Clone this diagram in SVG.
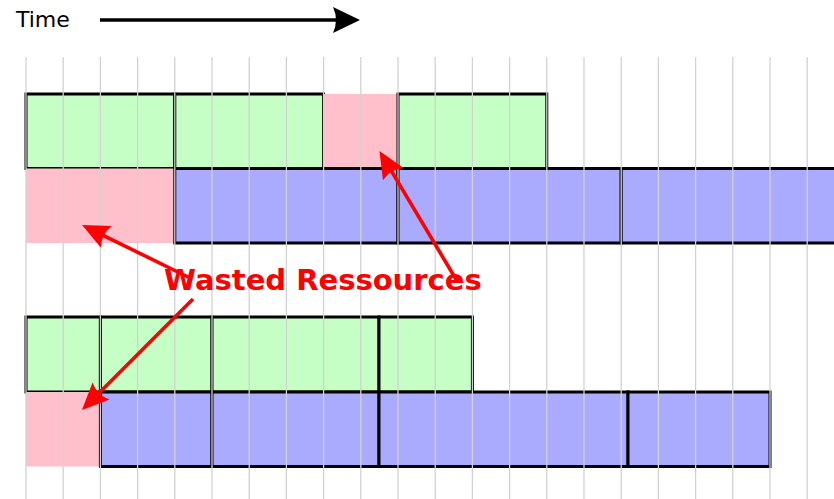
<svg xmlns="http://www.w3.org/2000/svg" width="834" height="499" viewBox="0 0 834 499">
<style>
.g{fill:#c6ffc6;stroke:#000;stroke-width:3}
.b{fill:#aaaaff;stroke:#000;stroke-width:3}
.p{fill:#ffc0cb;stroke:none}
.grid line{stroke:#d2d2d2;stroke-width:1.3}
.red{stroke:#ff0000;stroke-width:3.6;fill:none}
.blk{stroke:#000;stroke-width:3.6;fill:none}
.lbl{font-family:"DejaVu Sans",sans-serif}
</style>
<defs>
<marker id="ah-red" markerUnits="userSpaceOnUse" markerWidth="40" markerHeight="40" refX="7" refY="0" orient="auto" overflow="visible">
<path d="M0,-12 L27,0 L0,12 Q6,0 0,-12 Z" fill="#ff0000"/>
</marker>
<marker id="ah-blk" markerUnits="userSpaceOnUse" markerWidth="40" markerHeight="40" refX="7" refY="0" orient="auto" overflow="visible">
<path d="M0,-13 L27,0 L0,13 Q6,0 0,-13 Z" fill="#000"/>
</marker>
</defs>
<rect width="834" height="499" fill="#fff"/>
<text class="lbl" x="16" y="27" font-size="22" fill="#000">Time</text>
<g id="time-arrow"><line class="blk" x1="100" y1="20" x2="340" y2="20" marker-end="url(#ah-blk)"/></g>
<g id="top-cpu">
<g id="t1"><rect class="g" x="26" y="94" width="148.8" height="74.5"/></g>
<g id="t2"><rect class="g" x="174.8" y="94" width="148.8" height="74.5"/></g>
<g id="t-waste"><rect class="p" x="323.6" y="94" width="74.4" height="74.5"/></g>
<g id="t3"><rect class="g" x="398" y="94" width="148.8" height="74.5"/></g>
</g>
<g id="top-gpu">
<g id="b-waste"><rect class="p" x="26" y="168.5" width="148.8" height="74.5"/></g>
<g id="b1"><rect class="b" x="174.8" y="168.5" width="223.2" height="74.5"/></g>
<g id="b2"><rect class="b" x="398" y="168.5" width="223.2" height="74.5"/></g>
<g id="b3"><rect class="b" x="621.2" y="168.5" width="220" height="74.5"/></g>
</g>
<g id="bot-cpu">
<g id="c1"><rect class="g" x="26" y="317" width="74.4" height="75"/></g>
<g id="c2"><rect class="g" x="100.4" y="317" width="111.6" height="75"/></g>
<g id="c3"><rect class="g" x="212" y="317" width="167" height="75"/></g>
<g id="c4"><rect class="g" x="379" y="317" width="93.4" height="75"/></g>
</g>
<g id="bot-gpu">
<g id="d-waste"><rect class="p" x="26" y="392" width="74.4" height="74.5"/></g>
<g id="d1"><rect class="b" x="100.4" y="392" width="111.6" height="74.5"/></g>
<g id="d2"><rect class="b" x="212" y="392" width="167" height="74.5"/></g>
<g id="d3"><rect class="b" x="379" y="392" width="249" height="74.5"/></g>
<g id="d4"><rect class="b" x="628" y="392" width="142" height="74.5"/></g>
</g>
<g class="grid">
<line x1="26" y1="57" x2="26" y2="499"/>
<line x1="63.2" y1="57" x2="63.2" y2="499"/>
<line x1="100.4" y1="57" x2="100.4" y2="499"/>
<line x1="137.6" y1="57" x2="137.6" y2="499"/>
<line x1="174.8" y1="57" x2="174.8" y2="499"/>
<line x1="212" y1="57" x2="212" y2="499"/>
<line x1="249.2" y1="57" x2="249.2" y2="499"/>
<line x1="286.4" y1="57" x2="286.4" y2="499"/>
<line x1="323.6" y1="57" x2="323.6" y2="499"/>
<line x1="360.8" y1="57" x2="360.8" y2="499"/>
<line x1="398" y1="57" x2="398" y2="499"/>
<line x1="435.2" y1="57" x2="435.2" y2="499"/>
<line x1="472.4" y1="57" x2="472.4" y2="499"/>
<line x1="509.6" y1="57" x2="509.6" y2="499"/>
<line x1="546.8" y1="57" x2="546.8" y2="499"/>
<line x1="584" y1="57" x2="584" y2="499"/>
<line x1="621.2" y1="57" x2="621.2" y2="499"/>
<line x1="658.4" y1="57" x2="658.4" y2="499"/>
<line x1="695.6" y1="57" x2="695.6" y2="499"/>
<line x1="732.8" y1="57" x2="732.8" y2="499"/>
<line x1="770" y1="57" x2="770" y2="499"/>
<line x1="807.2" y1="57" x2="807.2" y2="499"/>
</g>
<g id="connectors">
<line class="red" x1="190" y1="278" x2="100" y2="233.8" marker-end="url(#ah-red)"/>
<line class="red" x1="457" y1="281" x2="389.7" y2="168.2" marker-end="url(#ah-red)"/>
<line class="red" x1="193" y1="299" x2="96.1" y2="395.9" marker-end="url(#ah-red)"/>
</g>
<text id="waste-label" class="lbl" x="164" y="290" font-size="29" font-weight="bold" fill="#ff0000">Wasted Ressources</text>
</svg>
